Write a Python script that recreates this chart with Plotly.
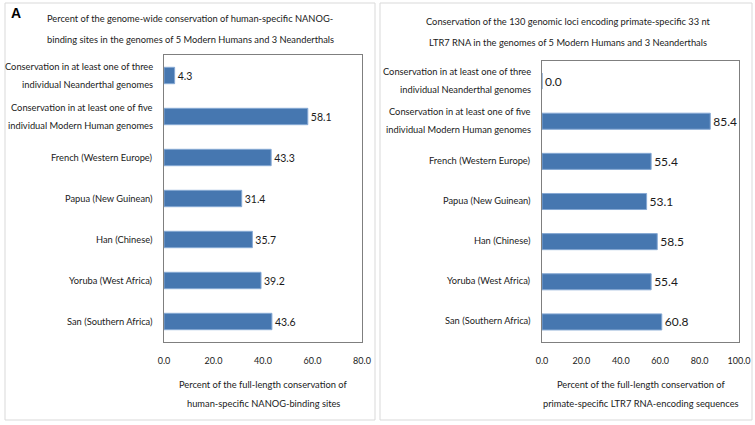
import plotly.graph_objects as go

categories = [
    "Conservation in at least one of three<br>individual Neanderthal genomes",
    "Conservation in at least one of five<br>individual Modern Human genomes",
    "French (Western Europe)",
    "Papua (New Guinean)",
    "Han (Chinese)",
    "Yoruba (West Africa)",
    "San (Southern Africa)",
]
nanog_values = [4.3, 58.1, 43.3, 31.4, 35.7, 39.2, 43.6]
ltr7_values = [0.0, 85.4, 55.4, 53.1, 58.5, 55.4, 60.8]
left_ticks = [0, 20, 40, 60, 80]
right_ticks = [0, 20, 40, 60, 80, 100]

FONT = "Lato, sans-serif"
TXT = "#1a1a1a"
BAR = "#4677B0"
W, H = 755, 425

def px(x):
    return x / W

def py(y):
    return 1 - y / H

fig = go.Figure()
fig.add_trace(go.Bar(
    x=nanog_values, y=categories, orientation="h", xaxis="x", yaxis="y",
    marker=dict(color=BAR, line=dict(color="#86A9D4", width=1)), width=0.4,
    texttemplate="%{x:.1f}", textposition="outside",
    textfont=dict(family=FONT, size=10.5, color=TXT), cliponaxis=False,
    showlegend=False, hoverinfo="x+y",
))
fig.add_trace(go.Bar(
    x=ltr7_values, y=categories, orientation="h", xaxis="x2", yaxis="y2",
    marker=dict(color=BAR, line=dict(color="#86A9D4", width=1)), width=0.4,
    texttemplate="%{x:.1f}", textposition="outside",
    textfont=dict(family=FONT, size=12, color=TXT), cliponaxis=False,
    showlegend=False, hoverinfo="x+y",
))

axis_common = dict(showline=True, linecolor="#7f7f7f", linewidth=1, mirror=True,
                   showgrid=False, zeroline=False, automargin=False)
xfont = dict(family=FONT, size=9, color=TXT)

fig.update_layout(
    width=W, height=H, margin=dict(l=0, r=0, t=0, b=0),
    paper_bgcolor="white", plot_bgcolor="white",
    xaxis=dict(domain=[px(164), px(362)], range=[0, 80], tickvals=left_ticks,
               tickformat=".1f", ticks="outside", ticklen=10, tickcolor="rgba(0,0,0,0)",
               anchor="y", tickfont=xfont, **axis_common),
    yaxis=dict(domain=[py(342), py(55)], autorange="reversed", anchor="x",
               showticklabels=False, **axis_common),
    xaxis2=dict(domain=[px(542), px(739)], range=[0, 100], tickvals=right_ticks,
                tickformat=".1f", ticks="outside", ticklen=10, tickcolor="rgba(0,0,0,0)",
                anchor="y2", tickfont=xfont, **axis_common),
    yaxis2=dict(domain=[py(342), py(61)], autorange="reversed", anchor="x2",
                showticklabels=False, **axis_common),
)

# panel frames
for x0, x1 in [(5, 375), (380, 752)]:
    fig.add_shape(type="rect", xref="paper", yref="paper",
                  x0=px(x0), x1=px(x1), y0=py(420), y1=py(3),
                  line=dict(color="#d9d9d9", width=1), fillcolor="rgba(0,0,0,0)", layer="below")

ann = []
# category labels, one line per annotation for Excel-like line spacing
for yref, xr, dy in [("y", 155, 0), ("y2", 533, 1)]:
    for cat in categories:
        lines = cat.split("<br>")
        n = len(lines)
        for i, line in enumerate(lines):
            shift = (-(i - (n - 1) / 2) * 18) + dy
            ann.append(dict(text=line, xref="paper", yref=yref, x=px(xr), y=cat,
                            xanchor="right", yanchor="middle", yshift=shift,
                            font=dict(family=FONT, size=9.3, color=TXT)))

ann.append(dict(text="<b>A</b>", x=px(9), y=py(13), xanchor="left", yanchor="middle",
                font=dict(family="Liberation Sans, Arial, sans-serif", size=14, color="#000")))
titles = [
    (["Percent of the genome-wide conservation of human-specific NANOG-",
      "binding sites in the genomes of 5 Modern Humans and 3 Neanderthals"], 190, [18, 39]),
    (["Conservation of the 130 genomic loci encoding primate-specific 33 nt",
      "LTR7 RNA in the genomes of 5 Modern Humans and 3 Neanderthals"], 568, [22, 42]),
    (["Percent of the full-length conservation of",
      "human-specific NANOG-binding sites"], 263, [384, 403]),
    (["Percent of the full-length conservation of",
      "primate-specific LTR7 RNA-encoding sequences"], 641, [384, 403]),
]
for lines, xc, ys in titles:
    for line, yy in zip(lines, ys):
        ann.append(dict(text=line, xref="paper", yref="paper", x=px(xc), y=py(yy),
                        xanchor="center", yanchor="middle",
                        font=dict(family=FONT, size=9.3, color=TXT)))
for a in ann:
    a.setdefault("xref", "paper")
    a.setdefault("yref", "paper")
    a["showarrow"] = False
fig.update_layout(annotations=ann)

fig.write_html("out.html", config={"displayModeBar": False},
               post_script="document.body.style.margin='0';")
